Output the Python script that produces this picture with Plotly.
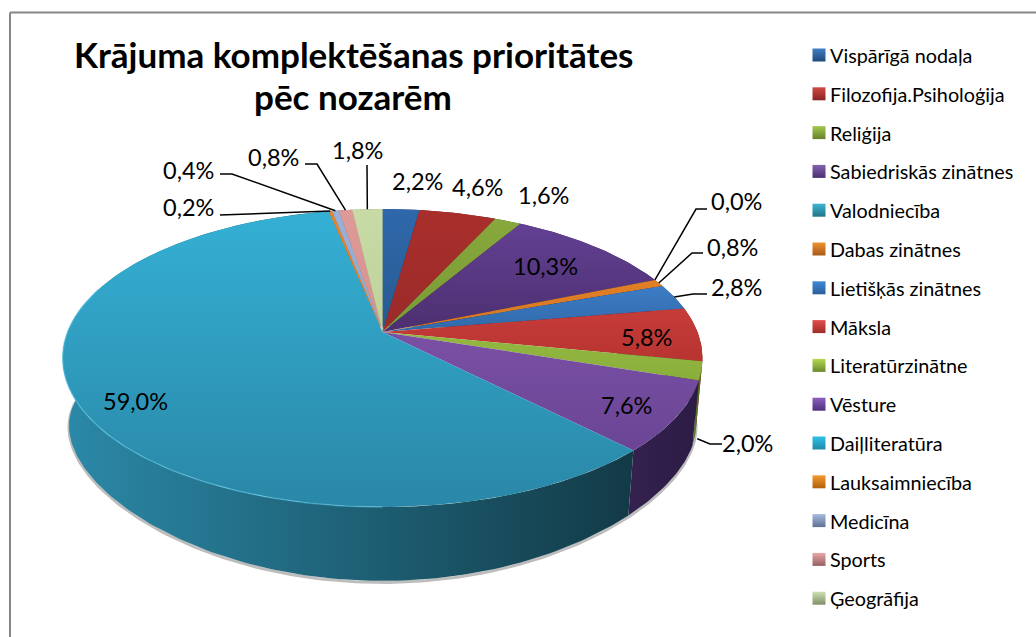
import numpy as np
import plotly.graph_objects as go

categories = ["Vispārīgā nodaļa", "Filozofija.Psiholoģija", "Reliģija", "Sabiedriskās zinātnes",
              "Valodniecība", "Dabas zinātnes", "Lietišķās zinātnes", "Māksla", "Literatūrzinātne",
              "Vēsture", "Daiļliteratūra", "Lauksaimniecība", "Medicīna", "Sports", "Ģeogrāfija"]
values = [2.2, 4.6, 1.6, 10.3, 0.0, 0.8, 2.8, 5.8, 2.0, 7.6, 59.0, 0.2, 0.4, 0.8, 1.8]
title_lines = ["Krājuma komplektēšanas prioritātes", "pēc nozarēm"]

# (gradient upper colour, gradient lower colour) of the top faces
top_colors = [("#2f68ab", "#265a8f"), ("#a92e2b", "#9a2b29"), ("#86a83c", "#7a9a35"),
              ("#634093", "#4c2f70"), ("#2f9ab5", "#2a8aa5"), ("#e07f25", "#d8781f"),
              ("#3d7cc6", "#2f69a8"), ("#c63c39", "#b83431"), ("#93b840", "#8aae3b"),
              ("#7a50a5", "#6a4595"), ("#34b0d4", "#2a87a7"), ("#e8842a", "#e07a20"),
              ("#9bb0d8", "#92a8d0"), ("#dd9a98", "#d69290"), ("#c8dba6", "#bfd29c")]
wall_colors = [("#1c3e66", "#15304f"), ("#6e1f1d", "#5a1917"), ("#566b26", "#47591f"),
               ("#3a2659", "#2f1f49"), ("#1d6b80", "#16505f"), ("#94531a", "#7a4415"),
               ("#274f80", "#1f4066"), ("#7c2523", "#651e1c"), ("#5f7a2a", "#4e6422"),
               ("#34214f", "#2c1c44"), ("#2b89a8", "#123a46"), ("#94531a", "#7a4415"),
               ("#5f6e8c", "#525f7a"), ("#8c5f5e", "#7a5250"), ("#7f8f66", "#6f7e58")]
legend_swatch = ["#3f7fc4", "#d04a46", "#a4c84e", "#8560b0", "#3fb5d4", "#ee9030", "#3f88d8", "#e0504c",
                 "#b4d850", "#8f60c0", "#30c0e8", "#f59a30", "#a8bce0", "#e8a8a8", "#d0e0b4"]
legend_swatch_low = ["#1f4a7c", "#8a2422", "#66812c", "#4a3070", "#1f7488", "#a85a16", "#2a5f9a", "#a02c2a",
                     "#6a8a2a", "#4d2f80", "#1f8aa8", "#b0600f", "#5f7094", "#96605f", "#7f9068"]

# geometry of the tilted disc, in pixels of a 1036x637 page
CX, CY, W, H, K = 382.5, 332.0, 315.0, 144.4, 0.175

def project(frac):
    th = 2 * np.pi * frac
    x, y = np.sin(th), -np.cos(th)
    d = 1 - K * y
    return W * x / d, H * y / d

def top_arc(a, b):
    fr = np.linspace(a, b, max(int((b - a) * 360) + 2, 3))
    dx, dy = project(fr)
    return CX + dx, CY + dy

def bottom_arc(a, b):
    fr = np.linspace(a, b, max(int((b - a) * 360) + 2, 3))
    dx, dy = project(fr)
    return CX + 0.98 * dx, CY + 72.2 + 0.79 * dy + 0.001255 * dy ** 2

total = sum(values)
cum = np.concatenate([[0], np.cumsum(values)]) / total

fig = go.Figure()

# soft shadow under the wall
sx, sy = bottom_arc(0.24, 0.78)
fig.add_trace(go.Scatter(x=sx, y=sy + 1.5, mode="lines", line=dict(color="rgba(90,90,90,0.4)", width=3),
                         hoverinfo="skip", showlegend=False))

# walls
for i in range(len(values)):
    if values[i] == 0:
        continue
    a, b = cum[i], cum[i + 1]
    tx, ty = top_arc(a, b)
    bx, by = bottom_arc(a, b)
    xs = np.concatenate([tx, bx[::-1], tx[:1]])
    ys = np.concatenate([ty, by[::-1], ty[:1]])
    c0, c1 = wall_colors[i]
    fig.add_trace(go.Scatter(x=xs, y=ys, mode="lines", line=dict(width=0), fill="toself",
                             fillcolor=c0,
                             fillgradient=dict(type="horizontal",
                                               colorscale=[[0, c0], [1, c1]]),
                             hoverinfo="skip", showlegend=False))

# top faces
for i in range(len(values)):
    if values[i] == 0:
        continue
    a, b = cum[i], cum[i + 1]
    tx, ty = top_arc(a, b)
    xs = np.concatenate([[CX], tx, [CX]])
    ys = np.concatenate([[CY], ty, [CY]])
    c0, c1 = top_colors[i]
    fig.add_trace(go.Scatter(x=xs, y=ys, mode="lines", line=dict(width=0), fill="toself",
                             fillcolor=c0, name=categories[i],
                             fillgradient=dict(type="vertical",
                                               colorscale=[[0, c1], [1, c0]]),
                             hoverinfo="name", showlegend=False))

# light bevel on the front rim
bx, by = top_arc(0.5, 0.8)
fig.add_trace(go.Scatter(x=bx, y=by, mode="lines", line=dict(color="rgba(90,195,225,0.55)", width=1.5),
                         hoverinfo="skip", showlegend=False))

# data labels: label centre, optional elbow and line end
labels = {
    0: dict(pos=(417, 181)),
    1: dict(pos=(477, 187)),
    2: dict(pos=(543, 195)),
    3: dict(pos=(545, 266)),
    4: dict(pos=(736, 201), elbow=(696, 209), end=(707, 209)),
    5: dict(pos=(732, 247), elbow=(692, 253), end=(703, 253)),
    6: dict(pos=(736, 287), elbow=(693, 294), end=(707, 294)),
    7: dict(pos=(646, 337)),
    8: dict(pos=(747, 443), elbow=(710, 444), end=(722, 444), wall=68),
    9: dict(pos=(626, 405)),
    10: dict(pos=(135, 401)),
    11: dict(pos=(188, 207), elbow=(230, 215), end=(220, 215)),
    12: dict(pos=(188, 170), elbow=(232, 174), end=(220, 174)),
    13: dict(pos=(273, 157), elbow=(317, 164), end=(305, 164)),
    14: dict(pos=(357, 150), elbow=(367, 165), end=(367, 165)),
}
for i, v in enumerate(values):
    spec = labels[i]
    fig.add_annotation(x=spec["pos"][0], y=spec["pos"][1], text=f"{v:.1f}%".replace(".", ","),
                       showarrow=False, xanchor="center", yanchor="middle",
                       font=dict(family="Lato", size=23.5, color="#000000"))
    if "elbow" in spec:
        dx, dy = project((cum[i] + cum[i + 1]) / 2)
        x0, y0 = CX + dx, CY + dy
        if "wall" in spec:
            x0, y0 = x0 - 4, y0 + spec["wall"]
        fig.add_trace(go.Scatter(x=[x0, spec["elbow"][0], spec["end"][0]],
                                 y=[y0, spec["elbow"][1], spec["end"][1]],
                                 mode="lines", line=dict(color="#000000", width=1.5),
                                 hoverinfo="skip", showlegend=False))

# legend column
rows = 55 + 38.8 * np.arange(len(categories))
for i, name in enumerate(categories):
    fig.add_trace(go.Scatter(x=[819], y=[rows[i]], mode="markers",
                             marker=dict(symbol="square", size=13, color=legend_swatch[i],
                                         line=dict(width=0),
                                         gradient=dict(type="vertical", color=legend_swatch_low[i])),
                             hoverinfo="skip", showlegend=False))
    fig.add_annotation(x=828, y=rows[i], text=name, showarrow=False, xanchor="left", yanchor="middle",
                       font=dict(family="Lato", size=19.8, color="#000000"))

for line, ypos in zip(title_lines, (54, 96)):
    fig.add_annotation(x=353, y=ypos, text=f"<b>{line}</b>", showarrow=False, xanchor="center",
                       yanchor="middle", font=dict(family="Lato", size=35, color="#000000"))

fig.update_layout(
    width=1036, height=637, margin=dict(l=0, r=0, t=0, b=0),
    paper_bgcolor="#ffffff", plot_bgcolor="#ffffff", showlegend=False,
    xaxis=dict(range=[0, 1036], visible=False, fixedrange=True),
    yaxis=dict(range=[637, 0], visible=False, fixedrange=True),
    shapes=[dict(type="line", xref="x", yref="y", x0=10, y0=12.5, x1=1036, y1=12.5,
                 line=dict(color="#868686", width=2), layer="below"),
            dict(type="line", xref="x", yref="y", x0=10, y0=12.5, x1=10, y1=637,
                 line=dict(color="#868686", width=2), layer="below")],
)
fig.write_html("out.html", config={"displayModeBar": False},
               post_script="document.body.style.margin='0';document.documentElement.style.overflow='hidden';")
